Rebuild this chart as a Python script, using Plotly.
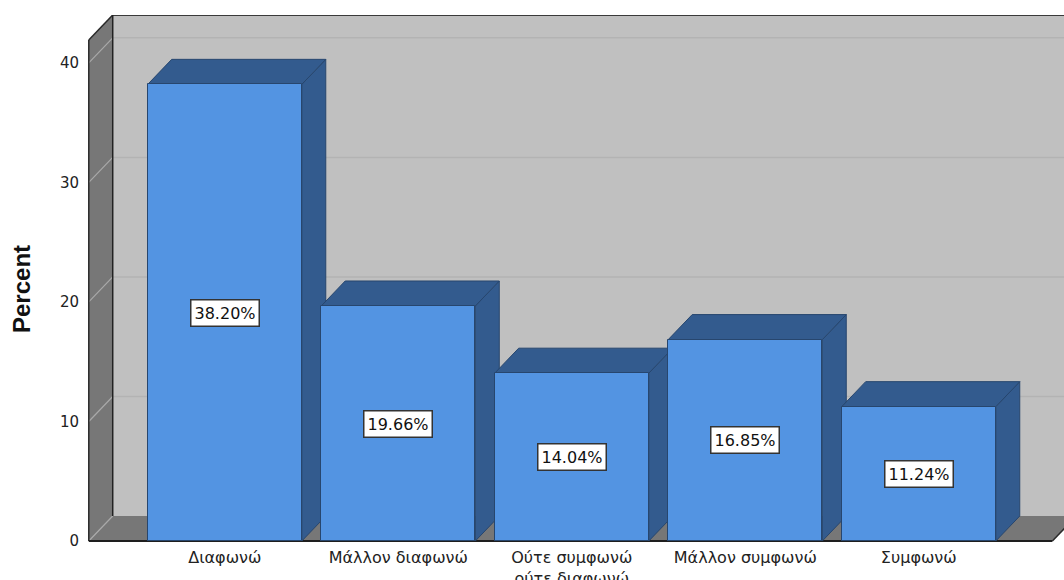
import plotly.graph_objects as go

# Survey answer categories and their percentages
categories = ["Διαφωνώ", "Μάλλον διαφωνώ", "Ούτε συμφωνώ<br>ούτε διαφωνώ", "Μάλλον συμφωνώ", "Συμφωνώ"]
percent = [38.20, 19.66, 14.04, 16.85, 11.24]
y_ticks = [0, 10, 20, 30, 40]

# Pseudo-3D geometry, in axis units
X_MIN, X_MAX = -0.80, 4.837
Y_MIN, Y_MAX = -0.25, 44.0
WALL_X = -0.784          # front edge of the left wall
FLOOR_END = 4.77         # front edge of the floor on the right
DX, DY = 0.138, 2.09     # depth offset of the box
BAR_W = 0.888
WALL_TOP = Y_MAX - DY

FRONT = "#5394E2"
SIDE = "#335B8E"
EDGE = "#27466E"
WALL = "#777777"
BACK = "#C0C0C0"

xs = list(range(len(categories)))

fig = go.Figure()


def path(points):
    return "M " + " L ".join(f"{x},{y}" for x, y in points) + " Z"


shapes = []
# back wall
shapes.append(dict(type="rect", xref="x", yref="y", layer="below",
                   x0=WALL_X + DX, x1=X_MAX + 1, y0=DY, y1=WALL_TOP + DY,
                   fillcolor=BACK, line=dict(width=0)))
# left wall
shapes.append(dict(type="path", xref="x", yref="y", layer="below",
                   path=path([(WALL_X, 0), (WALL_X, WALL_TOP), (WALL_X + DX, WALL_TOP + DY), (WALL_X + DX, DY)]),
                   fillcolor=WALL, line=dict(width=0)))
# floor
shapes.append(dict(type="path", xref="x", yref="y", layer="below",
                   path=path([(WALL_X, 0), (FLOOR_END, 0), (FLOOR_END + DX, DY), (WALL_X + DX, DY)]),
                   fillcolor=WALL, line=dict(width=0)))
# grid lines: slanted on the left wall, horizontal on the back wall
for t in y_ticks:
    shapes.append(dict(type="line", xref="x", yref="y", layer="below",
                       x0=WALL_X, y0=t, x1=WALL_X + DX, y1=t + DY,
                       line=dict(color="#A9A9A9", width=1.2)))
    if t > 0:
        shapes.append(dict(type="line", xref="x", yref="y", layer="below",
                           x0=WALL_X + DX, y0=t + DY, x1=X_MAX + 1, y1=t + DY,
                           line=dict(color="#B3B3B3", width=1.5)))
# outlines of the box
shapes.append(dict(type="line", xref="x", yref="y", layer="below",
                   x0=WALL_X, y0=0, x1=WALL_X, y1=WALL_TOP, line=dict(color="#2A2A2A", width=1.5)))
shapes.append(dict(type="line", xref="x", yref="y", layer="below",
                   x0=WALL_X, y0=WALL_TOP, x1=WALL_X + DX, y1=WALL_TOP + DY, line=dict(color="#2A2A2A", width=1.5)))
shapes.append(dict(type="line", xref="x", yref="y", layer="below",
                   x0=WALL_X + DX, y0=WALL_TOP + DY, x1=X_MAX + 1, y1=WALL_TOP + DY, line=dict(color="#3A3A3A", width=2)))
shapes.append(dict(type="line", xref="x", yref="y", layer="below",
                   x0=WALL_X + DX, y0=DY, x1=WALL_X + DX, y1=WALL_TOP + DY, line=dict(color="#222222", width=1.5)))
shapes.append(dict(type="line", xref="x", yref="y", layer="below",
                   x0=WALL_X, y0=0, x1=FLOOR_END, y1=0, line=dict(color="#1E1E1E", width=2)))
shapes.append(dict(type="line", xref="x", yref="y", layer="below",
                   x0=FLOOR_END, y0=0, x1=FLOOR_END + DX, y1=DY, line=dict(color="#2A2A2A", width=1.5)))

# top and side faces of every bar
for x, v in zip(xs, percent):
    xl, xr = x - BAR_W / 2, x + BAR_W / 2
    side = [(xr, 0), (xr + DX, DY), (xr + DX, v + DY), (xr, v), (xr, 0)]
    top = [(xl, v), (xl + DX, v + DY), (xr + DX, v + DY), (xr, v), (xl, v)]
    for poly in (side, top):
        fig.add_trace(go.Scatter(
            x=[p[0] for p in poly], y=[p[1] for p in poly],
            mode="lines", fill="toself", fillcolor=SIDE,
            line=dict(color=EDGE, width=1), hoverinfo="skip", showlegend=False))

# front faces on an overlaid axis pair so they sit above every side face
fig.add_trace(go.Bar(
    x=xs, y=percent, width=BAR_W, xaxis="x2", yaxis="y2",
    marker=dict(color=FRONT, line=dict(color=EDGE, width=1)),
    hoverinfo="skip", showlegend=False))

annotations = [
    dict(x=x, y=v / 2, xref="x", yref="y", text=f"{v:.2f}%", showarrow=False,
         font=dict(family="DejaVu Sans", size=16, color="#111111"),
         bgcolor="white", bordercolor="#333333", borderwidth=1.5, borderpad=3)
    for x, v in zip(xs, percent)
]
# y axis title
annotations.append(dict(
    x=-0.0665, y=0.482, xref="paper", yref="paper", text="Percent", textangle=-90,
    showarrow=False, xanchor="center", yanchor="middle",
    font=dict(family="Liberation Sans", size=24, color="#111111", weight="bold")))

fig.update_layout(
    width=1064, height=580,
    margin=dict(l=86, r=0, t=15, b=36),
    paper_bgcolor="white", plot_bgcolor="white",
    shapes=shapes, annotations=annotations,
    showlegend=False, bargap=0,
    xaxis=dict(range=[X_MIN, X_MAX], tickvals=xs, ticktext=categories,
               showgrid=False, zeroline=False, showline=False, ticks="",
               automargin=False, ticklabelstandoff=2,
               tickfont=dict(family="DejaVu Sans", size=16, color="#222222")),
    yaxis=dict(range=[Y_MIN, Y_MAX], tickvals=y_ticks,
               showgrid=False, zeroline=False, showline=False, ticks="",
               automargin=False, ticklabelstandoff=6,
               tickfont=dict(family="DejaVu Sans", size=15, color="#222222")),
    xaxis2=dict(overlaying="x", matches="x", visible=False),
    yaxis2=dict(overlaying="y", matches="y", visible=False),
)

fig.write_html("out.html")
